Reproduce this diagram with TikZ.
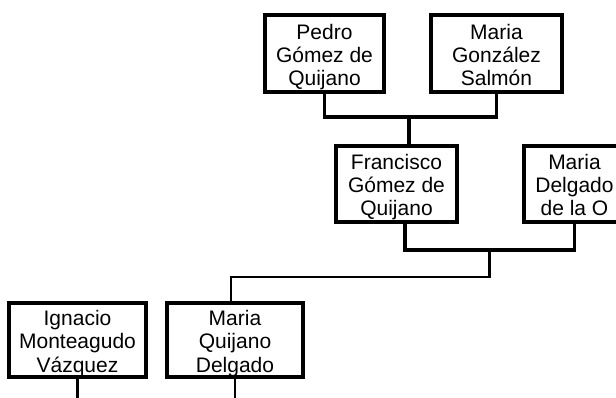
\documentclass[tikz,border=0pt]{standalone}
\usepackage{fontspec}
\setmainfont{Liberation Sans}
\newcommand{\threelines}[3]{\begin{tabular}[b]{@{}c@{}}#1\\#2\\#3\end{tabular}}
\begin{document}
\begin{tikzpicture}[x=1pt,y=-1pt,
  person/.style={draw, line width=3.2pt, inner sep=0pt, minimum height=76pt,
    text height=68pt, text depth=4pt, font=\fontsize{21}{23.2}\selectfont},
  thickline/.style={line width=3.1pt, line join=miter},
  thinline/.style={line width=2.1pt, line join=miter}]
\useasboundingbox (0,0) rectangle (616,398);
% persons
\node[person, minimum width=119pt, minimum height=77pt] (pedro) at (324.5,53.5) {\threelines{Pedro}{Gómez de}{Quijano}};
\node[person, minimum width=131pt, minimum height=77pt] (mariag) at (496.5,53.5) {\threelines{Maria}{González}{Salmón}};
\node[person, minimum width=121pt] (francisco) at (396.5,184) {\threelines{Francisco}{Gómez de}{Quijano}};
\node[person, minimum width=101pt] (mariad) at (574.5,184) {\threelines{Maria}{Delgado}{de la O}};
\node[person, minimum width=137pt, minimum height=74pt] (ignacio) at (77.5,340) {\threelines{Ignacio}{Monteagudo}{Vázquez}};
\node[person, minimum width=136pt, minimum height=74pt] (mariaq) at (235,340) {\threelines{Maria}{Quijano}{Delgado}};
% junctions
\coordinate (j1) at (409,117);
\coordinate (fdown) at (405,222);
\coordinate (j2) at (489.5,250);
\coordinate (j3) at (489.5,277);
\coordinate (qup) at (230.7,303);
\coordinate (iend) at (77.5,400);
\coordinate (qend) at (235,400);
% connectors
\draw[thickline] (pedro.south) |- (j1) -| (mariag.south);
\draw[thickline] (j1) -- (j1 |- francisco.north);
\draw[thickline] (fdown) |- (j2) -| (mariad.south);
\draw[thinline] (j2) -- (j3) -| (qup);
\draw[thinline] (ignacio.south) -- (iend);
\draw[thinline] (mariaq.south) -- (qend);
\end{tikzpicture}
\end{document}
